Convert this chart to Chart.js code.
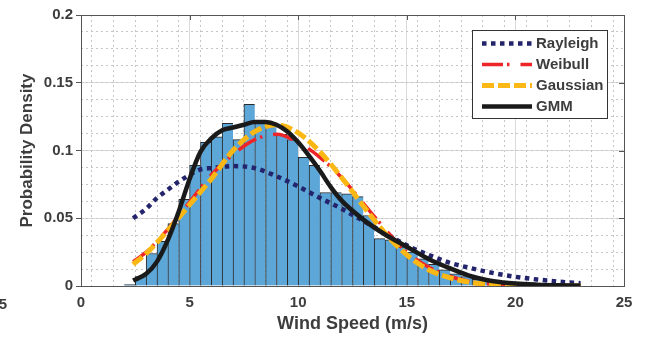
<!DOCTYPE html>
<html>
<head>
<meta charset="utf-8">
<script src="https://cdn.jsdelivr.net/npm/chart.js@4.4.1/dist/chart.umd.min.js"></script>
<style>
  body { margin: 0; background: #fff; }
  #wrap { width: 649px; height: 341px; }
</style>
</head>
<body>
<div id="wrap"><canvas id="windChart" width="649" height="341"></canvas></div>
<script>
// histogram of wind speed, 0.5 m/s bins (bin centres)
const binCenters = [2.25, 2.75, 3.25, 3.75, 4.25, 4.75, 5.25, 5.75, 6.25, 6.75,
    7.25, 7.75, 8.25, 8.75, 9.25, 9.75, 10.25, 10.75, 11.25, 11.75,
    12.25, 12.75, 13.25, 13.75, 14.25, 14.75, 15.25, 15.75, 16.25, 16.75,
    17.25, 17.75, 18.25, 18.75, 19.25, 19.75, 20.25, 20.75];
const binDensity = [0.001, 0.007, 0.024, 0.033, 0.046, 0.064, 0.089, 0.106, 0.110, 0.120,
    0.108, 0.134, 0.120, 0.118, 0.112, 0.108, 0.095, 0.089, 0.069, 0.069,
    0.068, 0.066, 0.052, 0.035, 0.034, 0.029, 0.025, 0.020, 0.016, 0.012,
    0.009, 0.007, 0.005, 0.004, 0.003, 0.002, 0.0015, 0.001];

// fitted curves
const rayleighX = [2.4, 3, 3.5, 4, 4.5, 5, 5.5, 6, 7, 8, 9, 10, 11, 12, 13, 14, 15, 16, 17, 18, 19, 20, 21, 22, 23];
const rayleighY = [0.050, 0.057, 0.065, 0.071, 0.077, 0.082, 0.086, 0.087, 0.0885, 0.087, 0.081, 0.0735, 0.065, 0.057,
    0.048, 0.039, 0.030, 0.023, 0.017, 0.013, 0.0095, 0.0068, 0.0048, 0.0032, 0.0021];

const weibullX = [2.4, 3, 4, 5, 6, 7, 8, 9, 10, 11, 12, 13, 14, 15, 16, 17, 18, 19, 20, 21, 22, 23];
const weibullY = [0.018, 0.025, 0.042, 0.062, 0.082, 0.097, 0.108, 0.112, 0.106, 0.095, 0.080, 0.061,
    0.042, 0.025, 0.014, 0.007, 0.003, 0.0012, 0.0005, 0.0002, 0.0001, 0.0];

const gaussX = [2.4, 3, 4, 5, 6, 7, 8, 9, 10, 11, 12, 13, 14, 15, 16, 17, 18, 19, 20, 21, 22, 23];
const gaussY = [0.016, 0.024, 0.041, 0.060, 0.079, 0.100, 0.114, 0.119, 0.113, 0.099, 0.080, 0.059,
    0.039, 0.023, 0.012, 0.006, 0.0025, 0.001, 0.0004, 0.0001, 0.0, 0.0];

const gmmX = [2.4, 3, 3.5, 4, 4.5, 5, 5.5, 6, 6.5, 7, 7.5, 8, 8.5, 9, 9.5, 10, 10.5, 11, 11.5, 12,
    13, 14, 15, 16, 17, 18, 19, 20, 21, 22, 23];
const gmmY = [0.004, 0.009, 0.018, 0.034, 0.055, 0.079, 0.099, 0.109, 0.115, 0.117, 0.119, 0.121, 0.121,
    0.119, 0.114, 0.106, 0.096, 0.085, 0.073, 0.063, 0.049, 0.038, 0.029, 0.020, 0.013, 0.007,
    0.0035, 0.0018, 0.001, 0.0006, 0.0004];

const xTickLabels = ['0', '5', '10', '15', '20', '25'];
const yTickLabels = ['0', '0.05', '0.1', '0.15', '0.2'];

const textColor = '#3d3d3d';
const axisColor = '#555555';

function toPoints(xs, ys) {
    return xs.map((x, i) => ({ x: x, y: ys[i] }));
}

// legend box + the top/right axis frame, drawn by hand
const frameAndLegend = {
    id: 'frameAndLegend',
    afterDraw(chart) {
        const ctx = chart.ctx;
        const area = chart.chartArea;
        const xs = chart.scales.x;
        const ys = chart.scales.y;
        ctx.save();

        // axes box
        ctx.strokeStyle = axisColor;
        ctx.lineWidth = 1;
        ctx.strokeRect(Math.round(area.left) + 0.5, Math.round(area.top) + 0.5,
            Math.round(area.right - area.left), Math.round(area.bottom - area.top));

        // small inward ticks on top and right
        ctx.beginPath();
        [5, 10, 15, 20].forEach(v => {
            const px = Math.round(xs.getPixelForValue(v)) + 0.5;
            ctx.moveTo(px, area.top);
            ctx.lineTo(px, area.top + 5);
        });
        [0.05, 0.1, 0.15].forEach(v => {
            const py = Math.round(ys.getPixelForValue(v)) + 0.5;
            ctx.moveTo(area.right, py);
            ctx.lineTo(area.right - 5, py);
        });
        ctx.stroke();

        // legend
        const bx = 472.5, by = 30.5, bw = 135, bh = 88;
        ctx.fillStyle = '#ffffff';
        ctx.fillRect(bx, by, bw, bh);
        ctx.strokeStyle = '#333333';
        ctx.strokeRect(bx, by, bw, bh);

        const lineSets = chart.data.datasets.filter(d => d.type === 'line');
        lineSets.forEach((d, i) => {
            const cy = 43.5 + i * 21;
            ctx.beginPath();
            ctx.setLineDash(d.borderDash || []);
            ctx.lineWidth = d.borderWidth;
            ctx.strokeStyle = d.borderColor;
            ctx.lineCap = 'butt';
            ctx.moveTo(482, cy);
            ctx.lineTo(532, cy);
            ctx.stroke();
            ctx.setLineDash([]);
            ctx.fillStyle = textColor;
            ctx.font = 'bold 15px "Liberation Sans", Arial, sans-serif';
            ctx.textAlign = 'left';
            ctx.textBaseline = 'middle';
            ctx.fillText(d.label, 536, cy + 0.5);
        });

        // stray tick label of a neighbouring panel at the left edge
        ctx.fillStyle = textColor;
        ctx.font = 'bold 15px "Liberation Sans", Arial, sans-serif';
        ctx.textAlign = 'center';
        ctx.textBaseline = 'middle';
        ctx.fillText('5', 3, 305);
        ctx.restore();
    }
};

const ctx = document.getElementById('windChart').getContext('2d');
const windChart = new Chart(ctx, {
    type: 'bar',
    data: {
        datasets: [
            {
                type: 'line',
                label: 'Rayleigh',
                data: toPoints(rayleighX, rayleighY),
                borderColor: '#23246b',
                borderWidth: 4.5,
                borderDash: [4.5, 4.5],
                pointRadius: 0,
                cubicInterpolationMode: 'monotone',
                fill: false,
                order: 4
            },
            {
                type: 'line',
                label: 'Weibull',
                data: toPoints(weibullX, weibullY),
                borderColor: '#ee2528',
                borderWidth: 3.5,
                borderDash: [21, 4, 2.5, 11],
                pointRadius: 0,
                cubicInterpolationMode: 'monotone',
                fill: false,
                order: 3
            },
            {
                type: 'line',
                label: 'Gaussian',
                data: toPoints(gaussX, gaussY),
                borderColor: '#fbb714',
                borderWidth: 5,
                borderDash: [12, 4],
                pointRadius: 0,
                cubicInterpolationMode: 'monotone',
                fill: false,
                order: 2
            },
            {
                type: 'line',
                label: 'GMM',
                data: toPoints(gmmX, gmmY),
                borderColor: '#1a1a1a',
                borderWidth: 4.5,
                pointRadius: 0,
                cubicInterpolationMode: 'monotone',
                fill: false,
                order: 1
            },
            {
                type: 'bar',
                label: 'Histogram',
                data: toPoints(binCenters, binDensity),
                backgroundColor: '#5da6d8',
                borderColor: '#2a2a2a',
                borderWidth: { top: 1, left: 1, right: 0, bottom: 0 },
                barPercentage: 1.0,
                categoryPercentage: 1.0,
                order: 10
            }
        ]
    },
    options: {
        responsive: false,
        animation: false,
        devicePixelRatio: 1,
        layout: { padding: { top: 15, right: 25, bottom: 0, left: 0 } },
        plugins: {
            legend: { display: false },
            tooltip: { enabled: false }
        },
        scales: {
            x: {
                type: 'linear',
                min: 0,
                max: 25,
                offset: false,
                grid: { color: '#dadada', lineWidth: 1, drawTicks: false, offset: false },
                border: { display: true, color: axisColor },
                ticks: {
                    stepSize: 5,
                    padding: 8,
                    color: textColor,
                    font: { family: '"Liberation Sans", Arial, sans-serif', size: 15, weight: 'bold' },
                    maxRotation: 0,
                    callback: (v, i) => xTickLabels[i]
                },
                title: {
                    display: true,
                    text: 'Wind Speed (m/s)',
                    color: textColor,
                    font: { family: '"Liberation Sans", Arial, sans-serif', size: 18, weight: 'bold' },
                    padding: { top: 0, bottom: 6 }
                },
                afterFit: s => { s.height = 55; }
            },
            xMinor: {
                type: 'linear',
                position: 'top',
                min: 0,
                max: 25,
                offset: false,
                grid: { color: '#c6c6c6', lineWidth: 1, drawTicks: false },
                border: { display: false, dash: [2, 3] },
                ticks: { display: false, stepSize: 1 },
                afterFit: s => { s.height = 0; }
            },
            y: {
                min: 0,
                max: 0.2,
                grid: { color: '#dadada', lineWidth: 1, drawTicks: true, tickLength: 5, tickColor: axisColor },
                border: { display: true, color: axisColor },
                ticks: {
                    stepSize: 0.05,
                    padding: 3,
                    color: textColor,
                    font: { family: '"Liberation Sans", Arial, sans-serif', size: 15, weight: 'bold' },
                    callback: (v, i) => yTickLabels[i]
                },
                title: {
                    display: true,
                    text: 'Probability Density',
                    color: textColor,
                    font: { family: '"Liberation Sans", Arial, sans-serif', size: 17, weight: 'bold' },
                    padding: { top: 17, bottom: 0 }
                },
                afterFit: s => { s.width = 81; }
            },
            yMinor: {
                position: 'right',
                min: 0,
                max: 0.2,
                grid: { color: '#c6c6c6', lineWidth: 1, drawTicks: false },
                border: { display: false, dash: [2, 3] },
                ticks: { display: false, stepSize: 0.0125 },
                afterFit: s => { s.width = 0; }
            }
        }
    },
    plugins: [frameAndLegend]
});
</script>
</body>
</html>
